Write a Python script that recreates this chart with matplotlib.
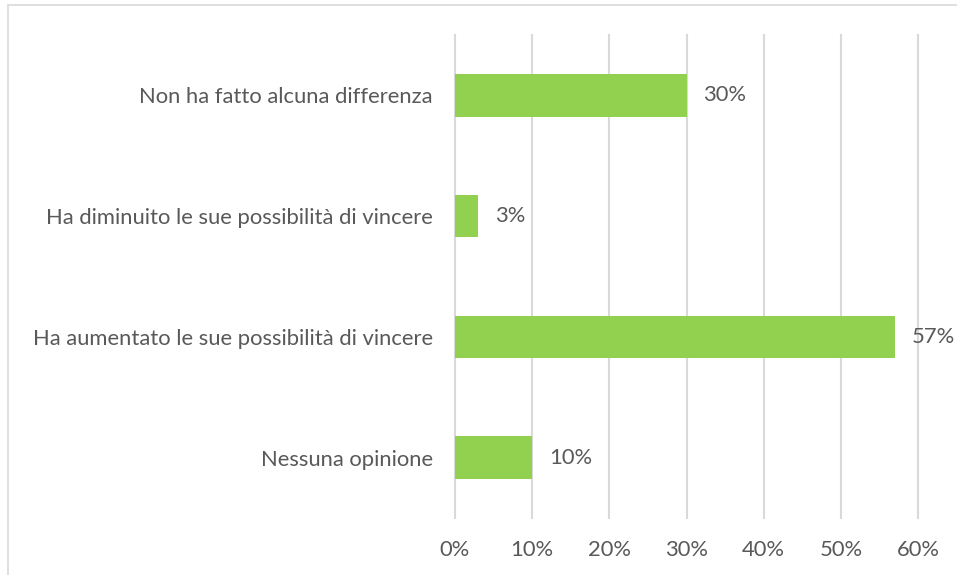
import matplotlib.pyplot as plt
from matplotlib.patches import Rectangle
from matplotlib.ticker import FuncFormatter

categories = [
    "Nessuna opinione",
    "Ha aumentato le sue possibilità di vincere",
    "Ha diminuito le sue possibilità di vincere",
    "Non ha fatto alcuna differenza",
]
values = [10, 57, 3, 30]
xticks = [0, 10, 20, 30, 40, 50, 60]

BAR = "#92D050"
TXT = "#595959"
GRID = "#D9D9D9"
FS = 15.8

plt.rcParams.update({"font.family": ["Lato", "DejaVu Sans"], "font.size": FS})

fig = plt.figure(figsize=(9.57, 5.75), dpi=100)
W, H = 957, 575
ax = fig.add_axes([455 / W, 1 - 518 / H, (918 - 455) / W, (518 - 35) / H])

y = range(len(categories))
ax.barh(y, values, height=0.35, color=BAR, zorder=3)
for yi, v in zip(y, values):
    ax.annotate(f"{v}%", (v, yi), xytext=(12, 0), textcoords="offset points",
                va="center", ha="left", color=TXT, fontsize=FS)

ax.set_xlim(0, 60)
ax.set_ylim(-0.5, len(categories) - 0.5)
ax.set_xticks(xticks)
ax.xaxis.set_major_formatter(FuncFormatter(lambda v, _: f"{v:.0f}%"))
ax.set_yticks(list(y))
ax.set_yticklabels(categories)
ax.tick_params(axis="both", length=0, colors=TXT, labelsize=FS)
ax.tick_params(axis="x", pad=16)
ax.tick_params(axis="y", pad=16)
ax.grid(axis="x", color=GRID, linewidth=1.5, zorder=0)
for gl in ax.get_xgridlines():
    gl.set_clip_on(False)
for s in ax.spines.values():
    s.set_visible(False)

# chart-area border (partly cropped in the original)
fig.patches.append(Rectangle((8 / W, -0.1), 1.1, 1 - 5 / H + 0.1, transform=fig.transFigure,
                             fill=False, edgecolor=GRID, linewidth=1.2))

fig.savefig("out.png", dpi=100, facecolor="white")
